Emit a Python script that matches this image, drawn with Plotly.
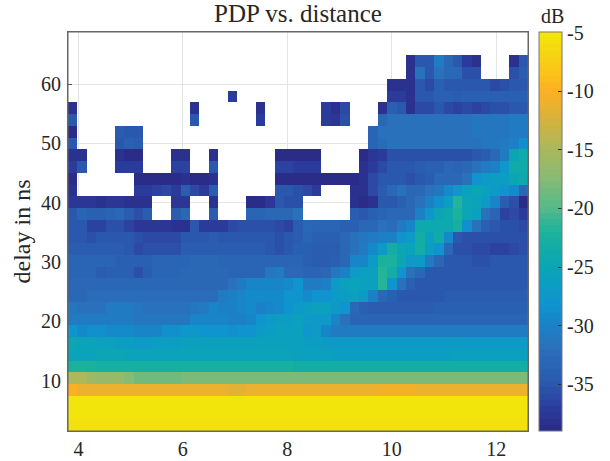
import plotly.graph_objects as go

N = None
r02 = [N]*36 + [-38,-35,-35,-31,-33,-35,-37,-38] + [N]*3 + [-38,-35]
r03 = [N]*36 + [-38,-32,-35,-32,-33,-33,-35.5,-35.5] + [N]*3 + [-35.5,-34.5]
r04 = [N]*34 + [-38,-38,-38,-35,-36,-34,-35,-35,-35,-35,-35,-36,-35.5,-35,-35]
r05 = [N]*17 + [-37] + [N]*16 + [-37,-37,-38,-35,-35,-34,-34,-34.5,-34,-34,-34,-34,-34,-34,-34]
r06 = [-38]+[N]*12+[-38]+[N]*6+[-38]+[N]*6+[-37,-38,-36]+[N]*3+[-38,-34,-35,-38,-36,-36,-35,-36,-36.5,-36,-36.5,-36,-35.5,-35.5,-35,-35]
r07 = [-35]+[N]*12+[-35]+[N]*6+[-37]+[N]*6+[-37,-37.5,-35.5]+[N]*3+[-33,-32,-32,-32,-32,-32,-32,-32,-32,-32,-31.5,-31.5,-31.5,-31.5,-31,-31]
r08 = [-38.5]+[N]*4+[-34.5,-35,-35]+[N]*24+[-33.5,-32,-32,-32,-32,-32,-32,-32,-32,-32,-32,-31.5,-31.5,-31.5,-31.5,-31,-31]
r09 = [-35]+[N]*4+[-35,-34,-34.5]+[N]*24+[-33.5,-32.5,-32,-32,-32,-32,-32,-32,-32,-32,-32,-32,-31.5,-31.5,-30.5,-30,-28.5]
r10 = [-38,-38]+[N]*3+[-38,-38.5,-38.5]+[N]*3+[-38,-38]+[N]*2+[-38]+[N]*6+[-38.5,-38.5,-38.5,-38.5,-38.5]+[N]*4+[-38.5,-37.5,-37,-35.5,-35.5,-35.5,-35.5,-35.5,-35.5,-35.5,-35.5,-35.5,-35,-34.5,-33,-31,-25,-24]
r11 = [-37,-35]+[N]*3+[-37,-37,-37]+[N]*3+[-36.5,-36.5]+[N]*2+[-35]+[N]*6+[-36.5,-36.5,-37,-37,-37]+[N]*4+[-38,-37,-36,-35,-35,-35,-34.5,-34,-34,-33,-33.5,-33,-32,-30.5,-30,-27.5,-24,-24]
r12 = [-38.5]+[N]*6+[-38.5,-38.5,-38.5,-38.5,-38.5,-38,-38.5,-38.5,-38]+[N]*6+[-39,-39,-39,-39,-39,-38.5,-38.5,-38.5,-38.5,-38,-36,-35,-35,-35,-35.5,-35,-34.5,-33,-33,-33,-32,-28,-27,-26.5,-26.5,-25,-24.5]
r13 = [-38]+[N]*6+[-37,-37,-36.5,-36,-37,-34.5,-36,-37,-34.5]+[N]*6+[-35,-35,-35.5,-36,-37]+[N]*3+[-38,-38,-36,-34.5,-33,-32,-33,-33,-32,-31.5,-29,-27.5,-26,-25,-26,-27,-28,-29,-33]
r14 = [-37.5,-37.5,-37.5,-38,-37.5,-37.5,-38,-38,-38,N,N,-37.5,-37.5,N,N,-38,N,N,N,-38.5,-38.5,-37.5,-35,-35.5,-35.5,N,N,N,N,N,-38,-38.5,-38,-35,-35,-34,-33,-32,-30,-28.5,-26.5,-21.5,-25,-25.5,-27,-29.5,-34.5,-35.5,-38.5]
r15 = [-35,-33.5,-34,-34,-33.5,-33,-34.5,-35.5,-34.5,N,N,-34.5,-33,N,N,-34.5,N,N,N,-33.5,-33.5,-33,-33,-33,-32,N,N,N,N,N,-34.5,-35,-34,-33.5,-33,-33,-33,-30,-27.5,-25,-24.5,-22,-25,-26,-32,-33.5,-36.5,-36,-37]
r16 = [-35,-35,-36.5,-36.5,-35.5,-35.5,-36.5,-37.5,-37.5,-37.5,-37.5,-38,-38,-35,-37,-37,-37,-36,-35.5,-35.5,-35.5,-35.5,-36,-36.5,-34.5,-33,-33.5,-33.5,-33.5,-34,-34,-33,-33,-32,-32.5,-31,-29.5,-24.5,-24.5,-24.5,-24.5,-23,-28.5,-32,-34,-35,-35.5,-35.5,-36]
r17 = [-35,-35,-35.5,-35,-35,-35,-35,-35.5,-36,-36,-36,-36,-35,-35,-35,-34.5,-35,-35,-35,-35,-35,-35,-35.5,-35,-34.5,-33.5,-34,-34,-34,-33,-32,-31.5,-31,-30,-30,-28,-27,-23.5,-26,-24,-29,-35,-35.5,-35.5,-35.5,-35.5,-35.5,-35.5,-35.5]
r18 = [-34.5,-34.5,-34.5,-34.5,-34.5,-34.5,-35,-36,-35.5,-35.5,-35.5,-35.5,-34.5,-34.5,-34.5,-34.5,-34.5,-34.5,-34.5,-34.5,-34.5,-35,-35.5,-35,-34,-34,-34.5,-34.5,-34.5,-33,-32,-31,-29,-27,-23.5,-25,-25.5,-23.5,-26.5,-28,-33,-35.5,-35.5,-36,-36,-36.5,-36.5,-36,-35.5]
r19 = [-33.5,-33.5,-33.5,-33.5,-33.5,-34,-34,-34,-34,-33.5,-33.5,-33.5,-33.5,-33,-33,-33,-33.5,-33.5,-33.5,-33.5,-33.5,-33.5,-33.5,-33.5,-33.5,-34,-34.5,-34.5,-34,-33,-29.5,-29.5,-27,-22,-22,-25,-27,-27,-31,-33,-35,-35,-35,-35.5,-35.5,-35,-35,-35,-35]
r20 = [-33.5,-33.5,-33.5,-34.5,-34,-34,-34,-35.5,-34.5,-33.5,-33.5,-33.5,-33,-33,-33,-33,-33,-33.5,-33.5,-33.5,-33.5,-31.5,-31,-33,-33,-33.5,-33.5,-33,-31.5,-30,-27,-26,-26,-21.5,-23.5,-28,-32,-33,-35,-35,-35,-35,-35,-35,-35,-35,-35,-35,-35]
r21 = [-33,-33,-33,-33,-33,-33,-33,-33,-33,-33,-33,-33,-33,-33,-33,-33,-33,-32,-31,-29.5,-29.5,-29.5,-29.5,-29,-28,-31,-30.5,-30,-27,-26,-25.5,-26,-26,-21.5,-28,-32,-34,-35,-35,-35,-35,-35,-35,-35,-35,-35,-35,-35,-35]
r22 = [-33,-33,-32.5,-32.5,-32.5,-32.5,-32.5,-32.5,-32.5,-32.5,-32.5,-32.5,-32.5,-32.5,-32.5,-32.5,-31,-30,-29.5,-29,-29,-29,-29,-28,-28,-29,-28,-28,-27,-26.5,-26,-27,-30,-33,-34,-35,-35,-35,-35,-35,-34.5,-34.5,-34.5,-34.5,-34.5,-34.5,-34.5,-34.5,-34.5]
r23 = [-31.5,-32,-32,-32,-31,-31,-31,-31.5,-32,-32,-32,-32,-32,-31.5,-31,-29.5,-30,-30,-29.5,-29,-30,-29.5,-29,-28,-27,-26.5,-26,-26,-27,-28,-33,-34,-34.5,-34.5,-34.5,-34.5,-34.5,-34.5,-34.5,-34,-34,-34,-34,-34,-34,-34,-34,-34,-34]
r24 = [-30.5,-31,-31,-31,-31,-31,-31,-31.5,-31.5,-31.5,-31.5,-31.5,-31.5,-29.5,-29.5,-29.5,-29.5,-30,-30,-29.5,-28,-27,-26.5,-26.5,-26,-27,-27,-27,-29.5,-32,-33.5,-33.5,-33.5,-33.5,-33.5,-33.5,-33.5,-33.5,-33.5,-33.5,-33.5,-33.5,-33.5,-33.5,-33.5,-33.5,-33.5,-33.5,-33.5]
r25 = [-28,-29,-28.5,-28.5,-29,-29,-29,-29.5,-29.5,-29.5,-28.5,-28.5,-27.5,-27.5,-28,-28,-28,-28.5,-28,-28,-27,-26.5,-26,-26,-26,-27.5,-27,-29.5,-31,-31,-31,-31,-31,-31,-31,-31,-31,-31,-31,-31,-31,-30.5,-30.5,-30.5,-30.5,-30.5,-30.5,-30.5,-30.5]
r26 = [-25,-25.5,-25.5,-26,-26,-26.5,-26.5,-27,-27,-26.5,-26.5,-26.5,-26,-26,-26,-26,-26,-26,-26,-26,-26,-26,-26,-26,-26,-26.5,-26.5,-27,-27,-27,-27,-27,-27,-27,-27,-27,-27,-27,-27,-27,-27,-27,-27,-27,-27,-27,-27,-27,-27]
r27 = [-25.5,-25.5,-25.5,-25,-25,-25,-25.5,-25.5,-25.5,-25.5,-25.5,-25.5,-25.5,-25.5,-25.5,-25.5,-25.5,-25.5,-25.5,-25.5,-25.5,-25.5,-25.5,-25.5,-26,-26,-26,-26,-26.5,-26.5,-26.5,-26.5,-26.5,-26.5,-26.5,-26.5,-26.5,-26.5,-26.5,-26.5,-26.5,-26,-26,-26,-26,-26,-26,-26,-26]
r28 = [-22,-22,-22,-23,-23,-23,-23,-23,-23,-23,-23,-23,-23,-23,-23,-23,-23,-23,-23,-23,-23,-23,-23,-23,-23.5,-23.5,-23.5,-23.5,-23.5,-23.5,-23.5,-23.5,-23.5,-23.5,-23.5,-23.5,-23.5,-23.5,-23.5,-23.5,-23.5,-23.5,-23.5,-23.5,-23.5,-23.5,-23.5,-23.5,-23.5]
r29 = [-15,-15,-16,-16.5,-16.5,-16.5,-17.5,-18.5,-18.5,-18.5,-18.5,-18.5,-18,-18,-18,-18,-18,-18,-18,-18,-18,-18,-18,-18,-18,-18,-18,-18,-18,-18,-18,-18,-18,-18,-18,-18,-18,-18,-18,-18,-18,-18,-18,-18,-18,-18,-18,-18,-18]
r30 = [-10,-11,-10.8,-10.8,-10.8,-11,-11,-11,-11,-11,-11,-11,-11,-11,-11,-11,-11,-11.5,-11.5,-11,-11,-11,-11,-11,-11,-11,-11,-11,-11,-11,-11,-11,-11,-10.6,-10.6,-10.6,-10.6,-11,-11,-11,-11,-11,-11,-11,-11,-11,-11,-11,-11]
r31 = [-5.2]*49
r32 = [-5.3]*49
r33 = [-5.6]*49
empty = [N]*49

rows_top_down = [empty, empty, r02, r03, r04, r05, r06, r07, r08, r09, r10, r11, r12, r13, r14, r15, r16,
                 r17, r18, r19, r20, r21, r22, r23, r24, r25, r26, r27, r28, r29, r30, r31, r32, r33]
for i, row in enumerate(rows_top_down):
    assert len(row) == 49, (i, len(row))
z = rows_top_down[::-1]

ZMIN, ZMAX = -39, -4.94
# colours: (dB, rgb)
anchors = [(-39,(43,42,131)),(-37,(43,60,158)),(-35,(42,88,174)),(-32,(42,111,186)),(-30,(26,130,200)),
           (-28,(14,149,207)),(-25,(10,165,181)),(-22,(27,179,154)),(-20,(85,185,138)),(-17,(142,187,112)),
           (-15,(168,184,92)),(-12,(220,178,58)),(-10,(253,176,34)),(-8,(249,201,22)),(-6,(243,221,14)),(-4.94,(242,232,11))]
def colour_at(v):
    for (a, ca), (b, cb) in zip(anchors, anchors[1:]):
        if v <= b:
            t = (v-a)/(b-a)
            return "rgb(%d,%d,%d)" % tuple(round(p+(q-p)*t) for p, q in zip(ca, cb))
    return "rgb(%d,%d,%d)" % anchors[-1][1]
scale = []
for i in range(64):
    col = colour_at(ZMIN + (i+0.5)*(ZMAX-ZMIN)/64)
    scale += [[i/64, col], [(i+1)/64, col]]

x_ticks = [4, 6, 8, 10, 12]
y_ticks = [10, 20, 30, 40, 50, 60]
cb_ticks = [-35, -30, -25, -20, -15, -10, -5]
cb_text = ["-35", "-30", "-25", "-20", "-15", "-10", "-5"]
FONT = "Liberation Serif"
INK = "#262626"

fig = go.Figure(go.Heatmap(
    z=z, x0=3.89, dx=0.1798, y0=2.47, dy=1.98, zmin=ZMIN, zmax=ZMAX,
    colorscale=scale, hoverongaps=False,
    colorbar=dict(thickness=23, thicknessmode="pixels", len=1, lenmode="fraction",
                  x=(539-68)/460, xanchor="left", xpad=0, y=0, yanchor="bottom", ypad=0,
                  outlinecolor="#777", outlinewidth=1,
                  tickvals=cb_ticks, ticktext=cb_text, ticks="inside", ticklen=4,
                  tickcolor="#333", tickfont=dict(family=FONT, size=20, color=INK)),
))
axis = dict(showgrid=True, gridcolor="#e4e4e4", gridwidth=1, zeroline=False,
            ticks="inside", ticklen=4, tickcolor="#555", layer="below traces",
            showline=True, linecolor="#666", mirror=True, automargin=False,
            tickfont=dict(family=FONT, size=20, color=INK))
fig.update_layout(
    width=610, height=461, autosize=False,
    margin=dict(l=68, r=82, t=32, b=30, autoexpand=False),
    paper_bgcolor="white", plot_bgcolor="white",
    title=dict(text="PDP vs. distance", x=298/610, xanchor="center", y=1-13/461, yanchor="middle",
               font=dict(family=FONT, size=25, color=INK)),
    xaxis=dict(axis, range=[3.8, 12.61], tickvals=x_ticks, ticktext=[str(v) for v in x_ticks], ticklabelstandoff=0),
    yaxis=dict(axis, range=[1.48, 68.8], tickvals=y_ticks, ticktext=[str(v) for v in y_ticks],
               ticklabelstandoff=2),
    annotations=[dict(text="dB", xref="paper", yref="paper", x=(552-68)/460, y=1+16/399,
                      xanchor="center", yanchor="middle", showarrow=False,
                      font=dict(family=FONT, size=20, color=INK)),
                 dict(text="delay in ns", xref="paper", yref="paper", x=(21-68)/460, y=(431-231.5)/399,
                      xanchor="center", yanchor="middle", textangle=-90, showarrow=False,
                      font=dict(family=FONT, size=24, color=INK))],
    shapes=[dict(type="rect", xref="paper", yref="paper", x0=0, x1=1, y0=0, y1=1,
                 line=dict(color="#666", width=1), layer="above")],
)
fig.write_html("out.html", config={"displayModeBar": False},
               post_script="document.body.style.margin='0';")
